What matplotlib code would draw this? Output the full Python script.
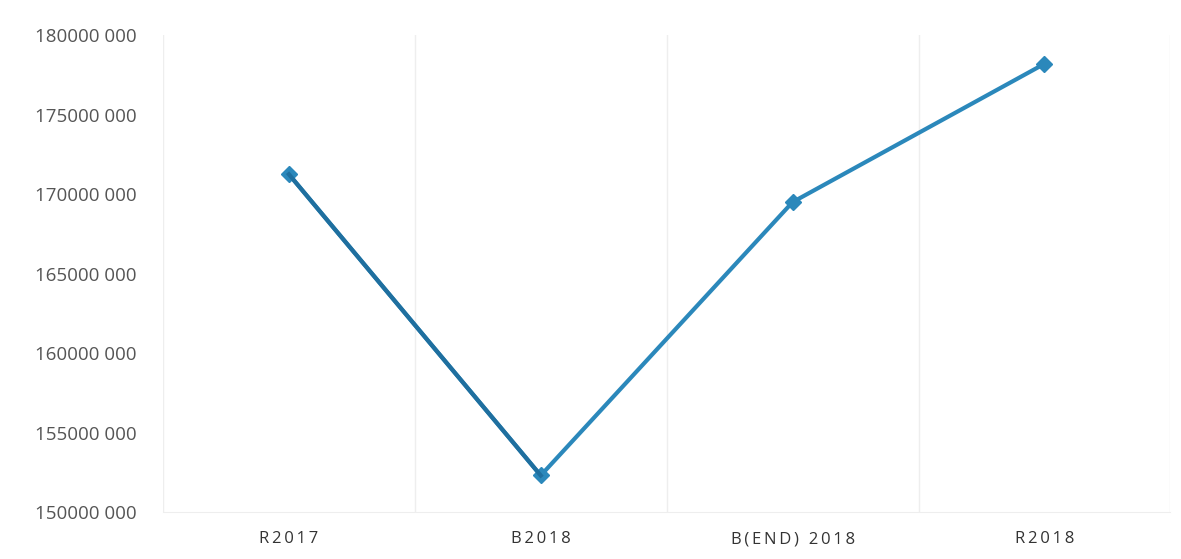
import numpy as np
import matplotlib.pyplot as plt
from matplotlib.ticker import FuncFormatter, FixedLocator

# data
categories = ["R2017", "B2018", "B(END) 2018", "R2018"]
values = [171.25e6, 152.3e6, 169.5e6, 178.2e6]

plt.rcParams['font.family'] = ['Open Sans', 'DejaVu Sans']


def spaced(label):
    # letter-spaced look of the original axis labels
    return "\u2009 \u2009".join("\u2009".join(word) for word in label.split(" "))


fig = plt.figure(figsize=(11.81, 5.59), dpi=100)
ax = fig.add_axes([0.138, 0.084, 0.853, 0.853])

x = np.arange(len(categories))
ax.plot(x, values, color='#2b88bb', lw=3, marker='D', ms=8,
        markerfacecolor='#2b88bb', markeredgecolor='#2b88bb', zorder=3)
# first segment looks a bit darker in the scan
ax.plot(x[:2], values[:2], color='#1f6f9f', lw=3, zorder=4)

ax.set_xlim(-0.5, len(categories) - 0.5)
ax.set_ylim(150e6, 180e6)
ax.set_yticks(np.arange(150e6, 180e6 + 1, 5e6))
ax.yaxis.set_major_formatter(FuncFormatter(
    lambda v, p: "%d %03d" % (int(v) // 1000, int(v) % 1000)))

ax.set_xticks(x)
ax.set_xticklabels([spaced(c) for c in categories])
ax.xaxis.set_minor_locator(FixedLocator(np.arange(-0.5, len(categories), 1.0)))
ax.grid(which='minor', axis='x', color='#eeeeee', lw=1)
ax.grid(which='major', visible=False)

for s in ['top', 'right', 'left']:
    ax.spines[s].set_visible(False)
ax.spines['bottom'].set_color('#eeeeee')

ax.tick_params(axis='both', which='both', length=0)
ax.tick_params(axis='y', labelsize=13.5, labelcolor='#555555', pad=19)
ax.tick_params(axis='x', labelsize=12, labelcolor='#333333', pad=14)

fig.savefig('out.png', dpi=100)
